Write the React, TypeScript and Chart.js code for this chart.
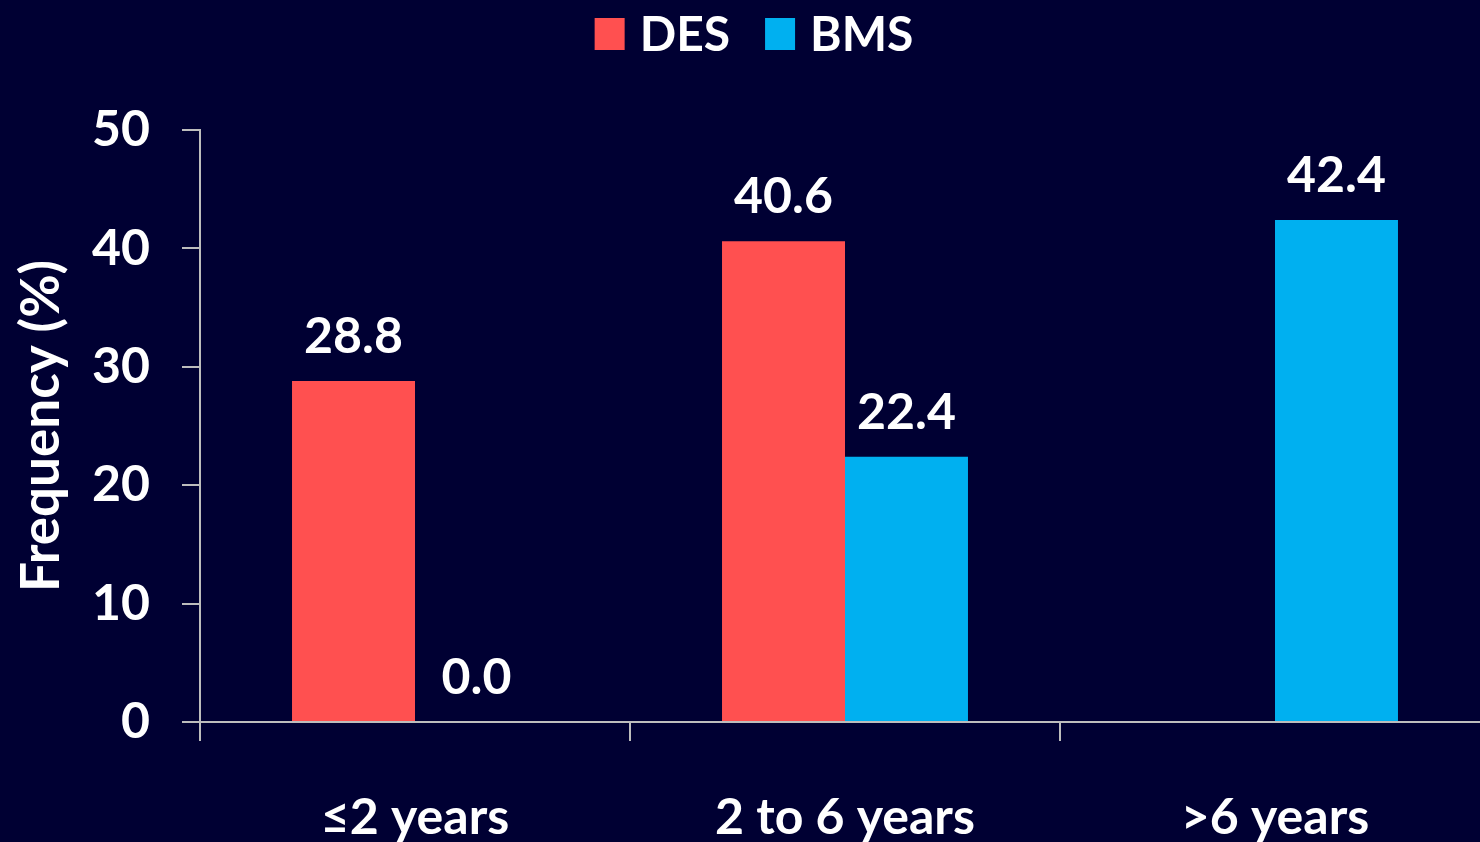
import React, { useEffect, useRef } from "react";
import { Chart, registerables } from "chart.js";

Chart.register(...registerables);

const categories = ["≤2 years", "2 to 6 years", ">6 years"];
const desValues: (number | null)[] = [28.8, 40.6, null];
const bmsValues: (number | null)[] = [0.0, 22.4, 42.4];
const seriesNames = ["DES", "BMS"];
const seriesColors = ["#FF5050", "#00B0F0"];
const yMin = 0;
const yMax = 50;
const yStep = 10;

const BG = "#000033";
const AXIS = "#bdbdbd";
const FONT = "Lato, 'Open Sans', sans-serif";

const valueLabels = {
  id: "valueLabels",
  afterDatasetsDraw(chart: any) {
    const ctx = chart.ctx;
    ctx.save();
    ctx.fillStyle = "#ffffff";
    ctx.font = `bold 50px ${FONT}`;
    ctx.textAlign = "center";
    ctx.textBaseline = "alphabetic";
    chart.data.datasets.forEach((ds: any, i: number) => {
      const meta = chart.getDatasetMeta(i);
      meta.data.forEach((bar: any, j: number) => {
        const v = ds.data[j];
        if (v == null) return;
        ctx.fillText(Number(v).toFixed(1), bar.x, bar.y - 28);
      });
    });
    ctx.restore();
  },
};

const topLegend = {
  id: "topLegend",
  afterDraw(chart: any) {
    const ctx = chart.ctx;
    ctx.save();
    ctx.font = `bold 48px ${FONT}`;
    ctx.textBaseline = "middle";
    const box = 30;
    const gap = 15;
    const spacing = 35;
    const widths = seriesNames.map((n) => box + gap + ctx.measureText(n).width);
    const total = widths.reduce((a, b) => a + b, 0) + spacing * (widths.length - 1);
    let x = 754 - total / 2;
    const cy = 34;
    seriesNames.forEach((n, i) => {
      ctx.fillStyle = seriesColors[i];
      ctx.fillRect(x, cy - 16, box, 32);
      ctx.fillStyle = "#ffffff";
      ctx.textAlign = "left";
      ctx.fillText(n, x + box + gap, cy + 2);
      x += widths[i] + spacing;
    });
    ctx.restore();
  },
};

const background = {
  id: "background",
  beforeDraw(chart: any) {
    const ctx = chart.ctx;
    ctx.save();
    ctx.fillStyle = BG;
    ctx.fillRect(0, 0, chart.width, chart.height);
    ctx.restore();
  },
};

export default function App() {
  const ref = useRef<HTMLCanvasElement | null>(null);

  useEffect(() => {
    if (!ref.current) return;
    const chart = new Chart(ref.current, {
      type: "bar",
      data: {
        labels: categories,
        datasets: [
          { label: seriesNames[0], data: desValues, backgroundColor: seriesColors[0], borderWidth: 0 },
          { label: seriesNames[1], data: bmsValues, backgroundColor: seriesColors[1], borderWidth: 0 },
        ],
      },
      options: {
        responsive: false,
        animation: false,
        devicePixelRatio: 1,
        layout: { padding: { top: 130, right: 10, left: 0, bottom: 0 } },
        datasets: { bar: { categoryPercentage: 0.572, barPercentage: 1 } },
        plugins: {
          legend: { display: false },
          tooltip: { enabled: false },
        },
        scales: {
          x: {
            offset: true,
            grid: {
              offset: true,
              drawOnChartArea: false,
              drawTicks: true,
              tickLength: 19,
              color: AXIS,
              lineWidth: 2,
            },
            border: { display: true, color: AXIS, width: 2 },
            ticks: {
              color: "#ffffff",
              font: { family: FONT, size: 50, weight: "bold" },
              padding: 47,
              maxRotation: 0,
            },
            afterFit: (s: any) => {
              s.height = 120;
            },
          },
          y: {
            min: yMin,
            max: yMax,
            grid: {
              drawOnChartArea: false,
              drawTicks: true,
              tickLength: 18,
              color: AXIS,
              lineWidth: 2,
            },
            border: { display: true, color: AXIS, width: 2 },
            ticks: {
              stepSize: yStep,
              color: "#ffffff",
              font: { family: FONT, size: 50, weight: "bold" },
              padding: 32,
            },
            title: {
              display: true,
              text: "Frequency (%)",
              color: "#ffffff",
              font: { family: FONT, size: 53, weight: "bold" },
              padding: { top: 10, bottom: 0 },
            },
            afterFit: (s: any) => {
              s.width = 200;
            },
          },
        },
      },
      plugins: [background, valueLabels, topLegend],
    });
    return () => chart.destroy();
  }, []);

  return (
    <div
      style={{
        position: "fixed",
        left: 0,
        top: 0,
        width: 1480,
        height: 842,
        overflow: "hidden",
        background: BG,
      }}
    >
      <canvas ref={ref} width={1500} height={842} style={{ display: "block" }} />
    </div>
  );
}
